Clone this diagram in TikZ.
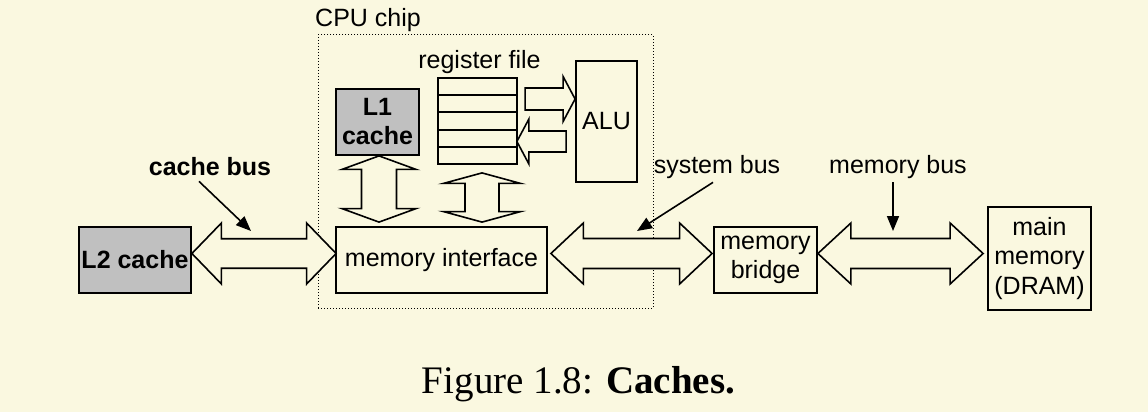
\documentclass[tikz,border=0pt]{standalone}
\usepackage{fontspec}
\setmainfont{Liberation Sans}
\newfontfamily\capfont{Liberation Serif}
\usetikzlibrary{arrows.meta,calc}
\definecolor{bgc}{RGB}{250,248,224}
\definecolor{cachegray}{RGB}{192,192,192}
\tikzset{
  box/.style={draw=black, line width=1.8pt, inner sep=0pt, align=center, font=\fontsize{25}{29.5}\selectfont},
  graybox/.style={box, fill=cachegray, font=\bfseries\fontsize{25}{29}\selectfont},
  lab/.style={inner sep=0pt, font=\fontsize{25}{29}\selectfont},
  blab/.style={inner sep=0pt, font=\bfseries\fontsize{25}{29}\selectfont},
  bus/.style={draw=black, line width=1.6pt, fill=bgc, line join=miter},
  pointer/.style={draw=black, line width=1.6pt, -{Triangle[length=15pt,width=12pt]}},
  chip/.style={draw=black, line width=1pt, dash pattern=on 1pt off 2pt, inner sep=0pt},
}
% horizontal double block arrow: left tip, right tip, head length, head half-height, body half-height
\newcommand\hbus[5]{\draw[bus] let \p1=#1, \p2=#2 in
  (\x1,\y1) -- ({\x1+#3pt},{\y1+#4pt}) -- ({\x1+#3pt},{\y1+#5pt}) -- ({\x2-#3pt},{\y1+#5pt})
  -- ({\x2-#3pt},{\y1+#4pt}) -- (\x2,\y1) -- ({\x2-#3pt},{\y1-#4pt}) -- ({\x2-#3pt},{\y1-#5pt})
  -- ({\x1+#3pt},{\y1-#5pt}) -- ({\x1+#3pt},{\y1-#4pt}) -- cycle;}
% vertical double block arrow: top tip, bottom tip, head length, head half-width, body half-width
\newcommand\vbus[5]{\draw[bus] let \p1=#1, \p2=#2 in
  (\x1,\y1) -- ({\x1+#4pt},{\y1-#3pt}) -- ({\x1+#5pt},{\y1-#3pt}) -- ({\x1+#5pt},{\y2+#3pt})
  -- ({\x1+#4pt},{\y2+#3pt}) -- (\x1,\y2) -- ({\x1-#4pt},{\y2+#3pt}) -- ({\x1-#5pt},{\y2+#3pt})
  -- ({\x1-#5pt},{\y1-#3pt}) -- ({\x1-#4pt},{\y1-#3pt}) -- cycle;}
% single horizontal block arrow: tail, tip, signed head length, head half-height, body half-height
\newcommand\sarrow[5]{\draw[bus] let \p1=#1, \p2=#2 in
  (\x1,{\y1+#5pt}) -- ({\x2-(#3pt)},{\y1+#5pt}) -- ({\x2-(#3pt)},{\y1+#4pt}) -- (\x2,\y1)
  -- ({\x2-(#3pt)},{\y1-#4pt}) -- ({\x2-(#3pt)},{\y1-#5pt}) -- (\x1,{\y1-#5pt}) -- cycle;}
\begin{document}
\begin{tikzpicture}[x=1pt,y=-1pt]
\fill[bgc] (0,0) rectangle (1148,412);
\useasboundingbox (0,0) rectangle (1148,412);

\node[chip, minimum width=335pt, minimum height=273pt] (cpu) at (485.5,171.5) {};
\node[lab] (cpul) at (368,20) {CPU chip};
\node[graybox, minimum width=83pt, minimum height=66pt] (l1) at (377.5,122) {L1\\cache};
\node[box, minimum width=79pt, minimum height=86pt] (reg) at (477.5,121) {};
\node[lab] (regl) at (479.5,62) {register file};
\node[box, minimum width=61pt, minimum height=121pt] (alu) at (606.5,121.5) {ALU};
\node[box, minimum width=211pt, minimum height=66pt] (mi) at (441.5,260) {memory interface};
\node[graybox, minimum width=112pt, minimum height=66pt] (l2) at (135,260) {L2 cache};
\node[box, minimum width=103pt, minimum height=66pt] (mb) at (765.5,260) {memory\\bridge};
\node[box, minimum width=103pt, minimum height=103pt] (mm) at (1039.5,258.5) {main\\memory\\(DRAM)};
\node[blab] (cbl) at (210,167) {cache bus};
\node[lab] (sbl) at (717,167) {system bus};
\node[lab] (mbl) at (898,167) {memory bus};
\node[anchor=base, inner sep=0pt, font=\capfont\fontsize{39}{44}\selectfont] (cap) at (578.5,393) {Figure 1.8: \textbf{Caches.}};

% register rows
\foreach \f in {1,2,3,4}
  \draw[line width=1.8pt] ($(reg.north west)!\f/5!(reg.south west)$) -- ($(reg.north east)!\f/5!(reg.south east)$);

% buses
\coordinate (busy) at (0,253.5);
\hbus{(l2.east |- busy)}{($(mi.west |- busy)+(1,0)$)}{29.5}{30.5}{14.75}
\hbus{($(mi.east |- busy)+(3,0)$)}{($(mb.west |- busy)+(-1,0)$)}{32.5}{30.5}{15}
\hbus{(mb.east |- busy)}{($(mm.west |- busy)+(-4,0)$)}{33}{30.5}{15}

% vertical buses
\vbus{($(l1.south)+(1.5,0)$)}{($(l1.south |- mi.north)+(1.5,-4)$)}{13.5}{37}{17.5}
\vbus{($(reg.south)+(4.5,8)$)}{($(reg.south |- mi.north)+(4.5,-4)$)}{10.5}{38.5}{17}

% register file <-> ALU
\sarrow{($(alu.west)+(-50,-22.5)$)}{($(alu.west)+(0,-22.5)$)}{12}{22.5}{11}
\sarrow{($(alu.west)+(-9,20)$)}{($(reg.east)+(-1,20.5)$)}{-12}{22.5}{10.5}

% pointers
\coordinate (cbt) at (251,231);
\coordinate (sbt) at (637,231);
\coordinate (mbt) at (893,231);
\draw[pointer] ($(cbl.south)+(-11,5)$) -- (cbt);
\draw[pointer] ($(sbl.south)+(-4,3.5)$) -- (sbt);
\draw[pointer] ($(mbl.south)+(-5,3.5)$) -- (mbt);
\end{tikzpicture}
\end{document}
